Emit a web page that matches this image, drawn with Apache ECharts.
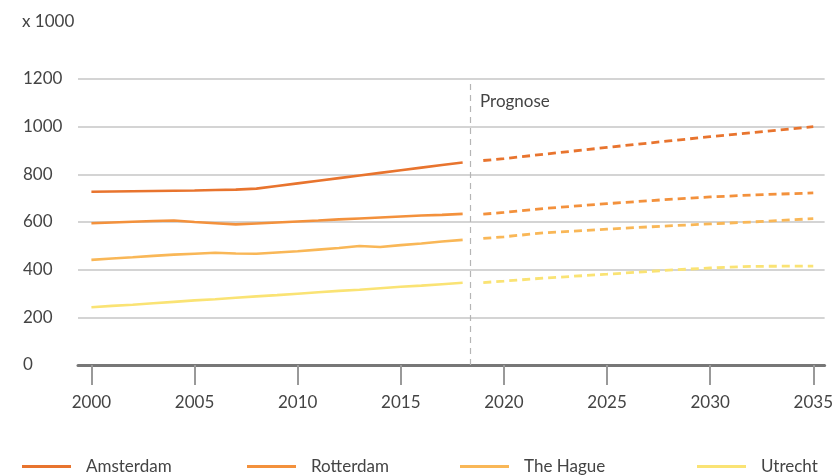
<!DOCTYPE html>
<html>
<head>
<meta charset="utf-8">
<script src="https://cdn.jsdelivr.net/npm/echarts@6/dist/echarts.min.js"></script>
<style>html,body{margin:0;padding:0;background:#fff}#c{width:836px;height:475px}</style>
</head>
<body>
<div id="c"></div>
<script>
const histYears = [2000,2001,2002,2003,2004,2005,2006,2007,2008,2009,2010,2011,2012,2013,2014,2015,2016,2017,2018];
const progYears = [2019,2020,2022,2025,2028,2030,2032,2035];
const tickYears = [2000,2005,2010,2015,2020,2025,2030,2035];
const yTicks = [0,200,400,600,800,1000,1200];
const cities = ['Amsterdam','Rotterdam','The Hague','Utrecht'];
const amsterdamHist = [727,728,729,730,731,732,734,736,740,751,762,773,784,795,806,817,828,839,850];
const rotterdamHist = [595,598,601,604,606,600,595,590,594,598,602,606,611,615,619,623,627,630,634];
const haagHist = [441,447,452,458,463,467,471,468,467,472,477,484,491,499,495,503,510,518,525];
const utrechtHist = [242,248,253,259,265,271,276,282,288,293,299,305,311,316,322,328,333,339,345];
const amsterdamProg = [858,866,885,913,940,958,975,1000];
const rotterdamProg = [633,640,657,677,695,705,713,722];
const haagProg = [531,538,555,570,584,592,600,614];
const utrechtProg = [346,352,365,381,398,407,414,415];
const prognoseYear = 2018.35;

const colors = ['#E8742E','#F3913C','#F9B757','#FAE374'];
const hist = [amsterdamHist, rotterdamHist, haagHist, utrechtHist];
const prog = [amsterdamProg, rotterdamProg, haagProg, utrechtProg];
const FONT = 'Lato, "Noto Sans", sans-serif';
const TXT = '#444';

const series = [];
cities.forEach((name, i) => {
  series.push({
    name, type: 'line', symbol: 'none', silent: true,
    data: histYears.map((y, k) => [y, hist[i][k]]),
    lineStyle: { color: colors[i], width: 2.6 }, itemStyle: { color: colors[i] },
    z: 10 - i,
    markLine: i === 0 ? {
      silent: true, symbol: 'none', label: { show: false },
      lineStyle: { color: '#b5b5b5', type: [6, 5], width: 1.2 },
      data: [{ xAxis: prognoseYear }]
    } : undefined
  });
  series.push({
    name, type: 'line', symbol: 'none', silent: true,
    data: progYears.map((y, k) => [y, prog[i][k]]),
    lineStyle: { color: colors[i], width: 2.8, type: [8, 5] }, itemStyle: { color: colors[i] },
    z: 10 - i
  });
});

const legendLefts = [17, 242, 455, 692];
const legends = cities.map((name, i) => ({
  left: legendLefts[i], top: 453, data: [name],
  icon: 'rect', itemWidth: 49, itemHeight: 3, selectedMode: false,
  textStyle: { fontFamily: FONT, fontSize: 17, color: TXT, padding: [0, 0, 0, 10] }
}));

const chart = echarts.init(document.getElementById('c'), null, { renderer: 'canvas' });
chart.setOption({
  animation: false,
  backgroundColor: '#fff',
  color: colors,
  grid: { left: 78, right: 10, top: 79, bottom: 110, containLabel: false },
  legend: legends,
  xAxis: {
    type: 'value', min: 1999.35, max: 2035.55,
    axisLine: { show: true, lineStyle: { color: '#777', width: 3 } },
    axisTick: { show: true, customValues: tickYears, length: 20, lineStyle: { color: '#999', width: 2 } },
    axisLabel: { customValues: tickYears, margin: 29, fontFamily: FONT, fontSize: 17, color: TXT, formatter: v => String(v) },
    splitLine: { show: false }
  },
  yAxis: {
    type: 'value', min: yTicks[0], max: yTicks[yTicks.length - 1], interval: 200,
    axisLine: { show: false }, axisTick: { show: false },
    axisLabel: { align: 'left', margin: 55, fontFamily: FONT, fontSize: 17, color: TXT, formatter: v => String(v) },
    splitLine: { lineStyle: { color: '#c6c6c6', width: 1.5 } }
  },
  graphic: [
    { type: 'text', left: 22, top: 13, style: { text: 'x 1000', font: '17px ' + FONT, fill: TXT } },
    { type: 'text', left: 480, top: 93, style: { text: 'Prognose', font: '17px ' + FONT, fill: TXT } }
  ],
  series
});
</script>
</body>
</html>
